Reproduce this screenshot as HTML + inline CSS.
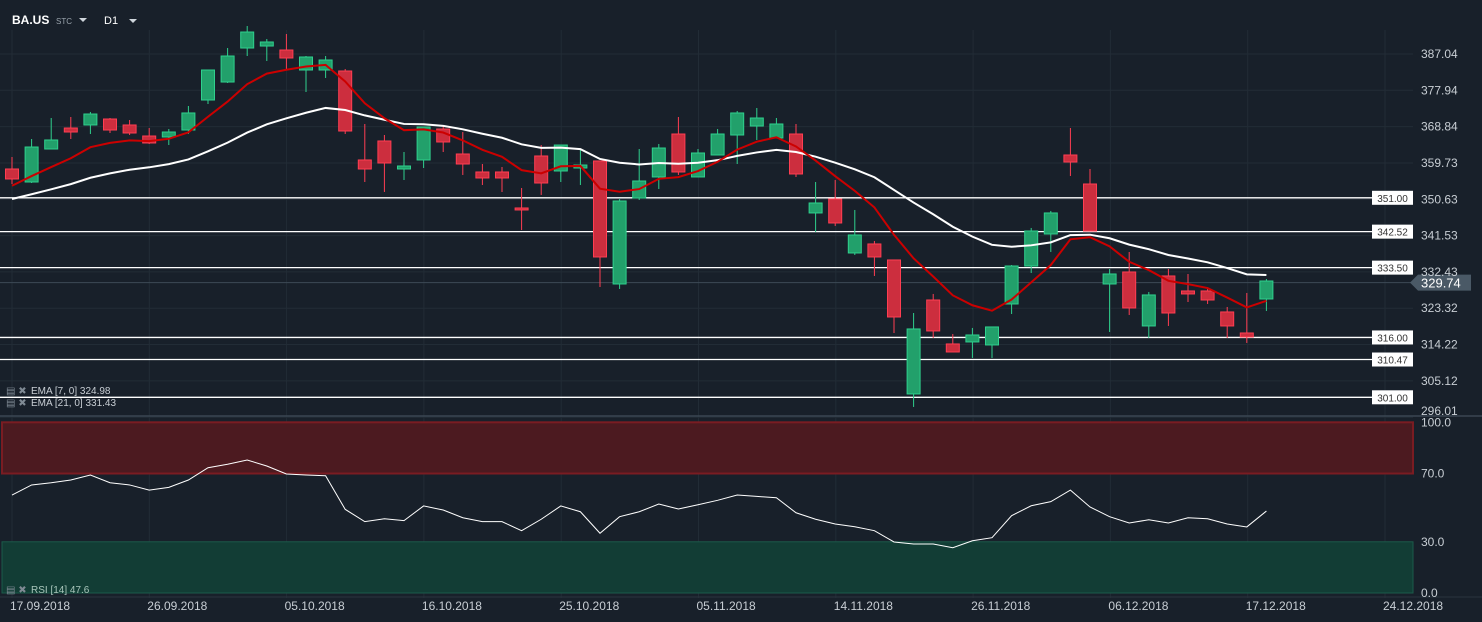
<!DOCTYPE html>
<html><head><meta charset="utf-8"><style>
body{margin:0;background:#18202a;width:1482px;height:622px;overflow:hidden;font-family:"Liberation Sans",sans-serif}
svg{display:block}
</style></head><body>
<svg id="c" width="1482" height="622">
<rect x="0" y="0" width="1482" height="622" fill="#18202a"/>
<g id="grid"></g>
<g id="bands"></g>
<g id="levels"></g>
<g id="candles"></g>
<g id="lines"></g>
<g id="axes"></g>
<g>
<text x="12" y="24" fill="#ffffff" font-size="12" font-weight="bold">BA.US</text>
<text x="56" y="24" fill="#9aa4ad" font-size="8">STC</text>
<path d="M79 18 L87 18 L83 22 Z" fill="#cfd6dc"/>
<text x="104" y="24" fill="#ffffff" font-size="11">D1</text>
<path d="M129 19 L137 19 L133 23 Z" fill="#cfd6dc"/>
</g>
<g font-size="10" fill="#c8ced4">
<text x="6" y="394" fill="#7f8a94" font-size="10">▤ ✖</text>
<text x="31" y="394">EMA [7, 0] 324.98</text>
<text x="6" y="406" fill="#7f8a94" font-size="10">▤ ✖</text>
<text x="31" y="406">EMA [21, 0] 331.43</text>
<text x="6" y="593" fill="#7f8a94" font-size="10">▤ ✖</text>
<text x="31" y="593" fill="#a9c6bb">RSI [14]  47.6</text>
</g>
</svg>
<script>
const opens=[358.22,354.96,363.23,368.49,369.25,370.75,369.25,366.49,366.24,367.99,375.51,380.02,388.54,389.04,388.04,383.03,383.03,382.78,360.48,365.24,358.22,360.48,368.24,361.98,357.47,357.47,348.45,361.48,357.72,358.47,360.23,329.40,350.95,356.22,366.99,356.22,361.73,366.74,368.99,365.99,366.99,347.20,350.70,337.17,339.43,335.42,301.84,325.39,314.37,314.87,314.12,324.39,333.91,341.93,361.73,354.46,329.40,332.41,318.88,331.41,327.65,327.65,322.39,317.12,325.64];
const closes=[355.72,363.73,365.49,367.49,372.00,367.99,367.24,364.74,367.49,372.26,383.03,386.54,392.55,390.05,386.04,386.29,385.54,367.74,358.22,359.72,358.97,368.75,364.99,359.47,355.97,355.97,347.95,354.71,364.23,359.22,336.17,350.20,355.21,363.48,357.47,362.23,366.99,372.26,371.00,369.50,356.97,349.70,344.69,341.68,336.17,321.13,318.13,317.63,312.36,316.62,318.63,333.91,342.68,347.20,359.97,342.68,331.91,323.39,326.65,322.13,326.90,325.39,318.88,316.12,330.15];
const highs=[361.23,365.74,371.00,371.25,372.51,371.00,370.50,368.49,368.24,374.01,383.03,388.54,394.06,390.80,392.05,386.54,386.54,383.28,369.50,366.74,362.48,368.75,369.00,367.49,359.47,358.72,353.46,364.23,364.23,362.98,360.23,350.70,363.23,364.49,371.25,363.23,368.24,372.76,373.51,371.00,369.50,354.96,355.46,347.95,340.18,335.42,322.13,326.90,316.87,318.38,318.63,334.16,343.44,347.70,368.49,358.22,333.16,337.42,327.40,333.16,331.91,328.15,323.64,327.15,330.65];
const lows=[354.46,354.71,363.23,365.74,366.99,367.24,366.74,364.49,364.23,366.99,374.51,379.77,386.54,385.29,383.28,377.52,381.03,366.99,354.96,352.46,355.46,358.47,362.48,356.72,354.21,352.46,342.93,351.71,354.96,354.21,328.65,328.15,350.45,353.21,356.72,356.22,361.73,359.47,365.49,365.99,356.22,342.43,343.94,336.67,331.41,317.12,298.58,315.87,312.36,310.86,310.86,321.88,332.16,337.42,356.47,342.68,317.37,321.63,315.87,318.88,324.89,324.39,315.87,314.62,322.64];
const rsiValues=[57.4,63.3,64.6,66.2,69.1,64.6,63.3,60.3,61.9,66.2,73.4,75.4,77.9,74.4,69.7,69.1,68.7,49.0,41.8,43.5,42.4,51.0,48.6,44.1,41.8,41.8,36.5,43.2,51.0,47.6,35.0,44.7,47.6,52.1,49.2,51.7,54.3,57.4,56.6,55.8,47.0,43.2,40.4,38.8,36.5,29.9,28.7,28.7,26.5,30.6,32.4,45.3,51.1,53.5,60.3,50.4,44.7,41.0,42.9,41.0,44.1,43.5,40.4,38.7,48.0];
const priceTicks=[387.04,377.94,368.84,359.73,350.63,341.53,332.43,323.32,314.22,305.12,296.01];
const levelValues=[351.00,342.52,333.50,316.00,310.47,301.00];
const rsiTicks=[100,70,30,0];
const dateLabels=["17.09.2018","26.09.2018","05.10.2018","16.10.2018","25.10.2018","05.11.2018","14.11.2018","26.11.2018","06.12.2018","17.12.2018","24.12.2018"];
const ema7Seed=353.46, ema21Seed=350.20, lastPrice=329.74;

const NS="http://www.w3.org/2000/svg";
const X0=12, STEP=19.6, PLOT_R=1413;
const yP=p=>54+(387.04-p)*3.99;
const yR=v=>593-1.707*v;
const xI=i=>X0+i*STEP;
function mk(tag,attrs,parent){const e=document.createElementNS(NS,tag);for(const k in attrs)e.setAttribute(k,attrs[k]);parent.appendChild(e);return e;}
const G=id=>document.getElementById(id);

// grid
const grid=G('grid');
priceTicks.forEach((t,i)=>{const l=mk('line',{x1:0,x2:PLOT_R,y1:yP(t),y2:yP(t),stroke:'#222c36','stroke-width':1},grid);

});
dateLabels.forEach((d,i)=>{const x=12+i*137.3;const l=mk('line',{x1:x,x2:x,y1:30,y2:598,stroke:'#222c36','stroke-width':1},grid);

});

// rsi bands
const bands=G('bands');
const rb=mk('rect',{x:2,y:yR(100),width:PLOT_R-2,height:yR(70)-yR(100),fill:'#4c1a20',stroke:'#7a1c22','stroke-width':2},bands);


const gb=mk('rect',{x:2,y:yR(30),width:PLOT_R-2,height:yR(0)-yR(30),fill:'#123d35',stroke:'#1b5a4a','stroke-width':1},bands);


const sep=mk('line',{x1:0,x2:1482,y1:416,y2:416,stroke:'#3a4652','stroke-width':1.5},bands);


const bsep=mk('line',{x1:0,x2:1482,y1:597,y2:597,stroke:'#2a343e','stroke-width':1},bands);



// horizontal levels
const lv=G('levels');
levelValues.forEach(v=>{const y=yP(v);
const l=mk('line',{x1:0,x2:1372,y1:y,y2:y,stroke:'#ffffff','stroke-width':1.3},lv);


const r=mk('rect',{x:1372,y:y-7,width:41,height:14,fill:'#ffffff'},lv);


const t=mk('text',{x:1392.5,y:y+4,'text-anchor':'middle','font-size':10,fill:'#333'},lv);t.textContent=v.toFixed(2);

});
const cy=yP(lastPrice);
const cl=mk('line',{x1:0,x2:1412,y1:cy,y2:cy,stroke:'#3d4a56','stroke-width':1},lv);


const ct=mk('path',{d:`M1410 ${cy} L1418 ${cy-8} L1471 ${cy-8} L1471 ${cy+8} L1418 ${cy+8} Z`,fill:'#4a5966'},lv);


const ctt=mk('text',{x:1421,y:cy+5,'font-size':13,fill:'#ffffff'},lv);ctt.textContent=lastPrice.toFixed(2);



// candles
const cg=G('candles');
closes.forEach((c,i)=>{const o=opens[i],x=xI(i),up=c>=o;
const fill=up?'#22a06b':'#cc2e3e',st=up?'#2fd08d':'#ff3e52';
const w=mk('line',{x1:x,x2:x,y1:yP(highs[i]),y2:yP(lows[i]),stroke:st,'stroke-width':1},cg);


const top=yP(Math.max(o,c)),bot=yP(Math.min(o,c));
const b=mk('rect',{x:x-6.5,y:top,width:13,height:Math.max(1.5,bot-top),fill:fill,stroke:st,'stroke-width':1},cg);

});

// EMAs
function ema(seed,n){const a=2/(n+1);let e=seed;return closes.map(c=>(e=e+a*(c-e)));}
const e7=ema(ema7Seed,7),e21=ema(ema21Seed,21);
const ln=G('lines');
const p21=mk('polyline',{points:[[xI(0),yP(ema21Seed)]].concat(e21.map((v,i)=>[xI(i),yP(v)])).slice(1).map(p=>p.join(',')).join(' '),fill:'none',stroke:'#ffffff','stroke-width':2},ln);


const p7=mk('polyline',{points:e7.map((v,i)=>xI(i)+','+yP(v)).join(' '),fill:'none',stroke:'#cc0000','stroke-width':2},ln);


const pr=mk('polyline',{points:rsiValues.map((v,i)=>xI(i)+','+yR(v)).join(' '),fill:'none',stroke:'#ffffff','stroke-width':1},ln);



// axes labels
const ax=G('axes');
priceTicks.forEach(t=>{const y=Math.min(yP(t)+4,415);
const tx=mk('text',{x:1421,y:y,'font-size':12,fill:'#c8ced4'},ax);tx.textContent=t.toFixed(2);

});
rsiTicks.forEach(t=>{const tx=mk('text',{x:1421,y:yR(t)+4,'font-size':12,fill:'#c8ced4'},ax);tx.textContent=t.toFixed(1);

});
dateLabels.forEach((d,i)=>{const tx=mk('text',{x:10+i*137.3,y:610,'font-size':12,fill:'#c8ced4'},ax);tx.textContent=d;

});
</script>
</body></html>
